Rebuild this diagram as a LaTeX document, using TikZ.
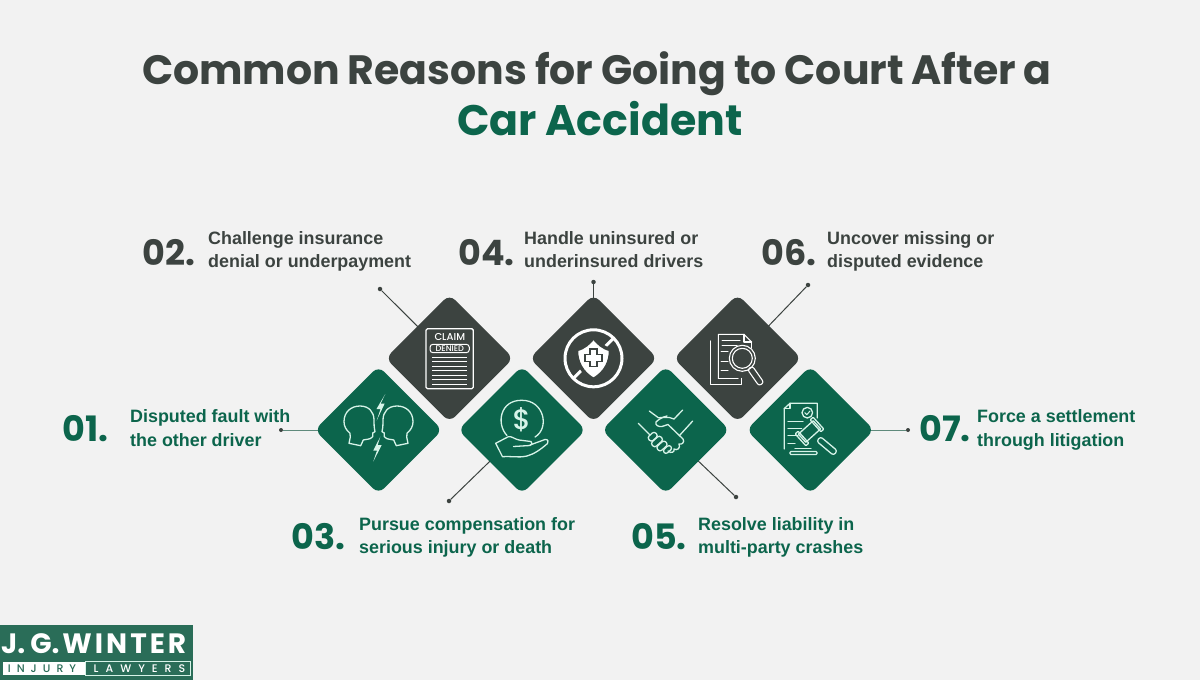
\documentclass[tikz,border=0pt]{standalone}
\usepackage{fontspec}
\usetikzlibrary{backgrounds}
\setmainfont{Poppins}[UprightFont=* Medium,BoldFont=* Bold]
\newfontfamily\labfont{Liberation Sans}
\newfontfamily\titlefont[WordSpace=0.9]{Poppins Bold}
\definecolor{bgc}{HTML}{F2F2F2}
\definecolor{darkc}{HTML}{3C4340}
\definecolor{greenc}{HTML}{0C654C}
\definecolor{mintc}{HTML}{D6F3E8}
\definecolor{logoc}{HTML}{2A6D58}
\definecolor{greenline}{HTML}{5F8A7C}
\tikzset{
 x=1pt,y=-1pt,
 tile/.style={rectangle,rotate=45,minimum size=90.4pt,inner sep=0pt,rounded corners=8pt,draw=none},
 darktile/.style={tile,fill=darkc},
 greentile/.style={tile,fill=greenc},
 titletext/.style={font=\titlefont\fontsize{41}{41}\selectfont,anchor=base,inner sep=0pt},
 numtext/.style={font=\fontsize{35}{35}\selectfont\bfseries,anchor=base west,inner sep=0pt},
 labeltext/.style={font=\labfont\bfseries\fontsize{17.9}{17.9}\selectfont,anchor=base west,inner sep=0pt},
 conn/.style={line width=1pt,draw=darkc},
 dotc/.style={circle,fill=darkc,minimum size=4.5pt,inner sep=0pt},
 icon/.style={line width=1.3pt,draw=mintc,line join=round,line cap=round},
 iconw/.style={line width=1.3pt,draw=white,line join=round,line cap=round},
}
\begin{document}
\begin{tikzpicture}
\useasboundingbox (0,0) rectangle (1200,680);
\begin{scope}[on background layer]
\fill[bgc] (0,0) rectangle (1200,680);
\end{scope}
% tiles
\node[greentile] (t1) at (378.5,430) {};
\node[darktile] (t2) at (449.5,358.3) {};
\node[greentile] (t3) at (522,430) {};
\node[darktile] (t4) at (593.5,358.3) {};
\node[greentile] (t5) at (665.7,430) {};
\node[darktile] (t6) at (737.5,358.3) {};
\node[greentile] (t7) at (810.3,430) {};
% connector ends
\node[dotc,minimum size=4pt] (e1) at (281,430) {};
\node[dotc] (e2) at (380,289) {};
\node[dotc] (e3) at (449,501) {};
\node[dotc] (e4) at (593.5,282) {};
\node[dotc] (e5) at (736,497) {};
\node[dotc] (e6) at (808,285) {};
\node[dotc,minimum size=4pt] (e7) at (908,430) {};
\begin{scope}[on background layer]
\draw[conn,draw=greenline] (e1) -- (t1.center);
\draw[conn] (e2) -- (t2.center);
\draw[conn] (e3) -- (t3.center);
\draw[conn] (e4) -- (t4.center);
\draw[conn] (e5) -- (t5.center);
\draw[conn] (e6) -- (t6.center);
\draw[conn,draw=greenline] (e7) -- (t7.center);
\end{scope}
% title
\node[titletext,text=darkc] (title1) at (597,84) {Common Reasons for Going to Court After a};
\node[titletext,text=greenc,font=\titlefont\fontsize{42.7}{42.7}\selectfont] (title2) at (600,135) {Car Accident};
% numbers and labels
\node[numtext,text=greenc] (n1) at (62,441) {01.};
\node[labeltext,text=greenc] (l1a) at (130,422) {Disputed fault with};
\node[labeltext,text=greenc] (l1b) at (130,446) {the other driver};
\node[numtext,text=darkc] (n2) at (142,265) {02.};
\node[labeltext,text=darkc] (l2a) at (208,244) {Challenge insurance};
\node[labeltext,text=darkc] (l2b) at (208,267) {denial or underpayment};
\node[numtext,text=greenc] (n3) at (291,549) {03.};
\node[labeltext,text=greenc] (l3a) at (359,530) {Pursue compensation for};
\node[labeltext,text=greenc] (l3b) at (359,553) {serious injury or death};
\node[numtext,text=darkc] (n4) at (458,265) {04.};
\node[labeltext,text=darkc] (l4a) at (524,244) {Handle uninsured or};
\node[labeltext,text=darkc] (l4b) at (524,267) {underinsured drivers};
\node[numtext,text=greenc] (n5) at (631,549) {05.};
\node[labeltext,text=greenc] (l5a) at (698,530) {Resolve liability in};
\node[labeltext,text=greenc] (l5b) at (698,553) {multi-party crashes};
\node[numtext,text=darkc] (n6) at (761,265) {06.};
\node[labeltext,text=darkc] (l6a) at (827,244) {Uncover missing or};
\node[labeltext,text=darkc] (l6b) at (827,267) {disputed evidence};
\node[numtext,text=greenc] (n7) at (919,441) {07.};
\node[labeltext,text=greenc] (l7a) at (977,422) {Force a settlement};
\node[labeltext,text=greenc] (l7b) at (977,446) {through litigation};
% icon 1: heads
\draw[icon] (360.7,445.7) -- (349,443.3) .. controls (350,438) and (351,436) .. (350,433.3) .. controls (346,430) and (344,426) .. (344,421.7) .. controls (344,412) and (351,406) .. (360,406) .. controls (369,406) and (374,412) .. (374,420) .. controls (374,424) and (374,427) .. (375,431.7) -- (372.7,433) -- (372.7,436.7) .. controls (370,440) and (366,439) .. (363.3,440) -- cycle;
\draw[icon] (396.3,445.7) -- (408,443.3) .. controls (407,438) and (406,436) .. (407,433.3) .. controls (411,430) and (413,426) .. (413,421.7) .. controls (413,412) and (406,406) .. (397,406) .. controls (388,406) and (383,412) .. (383,420) .. controls (383,424) and (383,427) .. (382,431.7) -- (384.3,433) -- (384.3,436.7) .. controls (387,440) and (391,439) .. (393.7,440) -- cycle;
\fill[mintc] (385.3,394) -- (376.5,409) -- (380.5,409) -- (376.7,420.5) -- (384.7,403.5) -- (380.7,403.5) -- cycle;
\fill[mintc] (380.3,436.7) -- (373.3,450.5) -- (377,450.5) -- (373.3,461.5) -- (381.7,445) -- (377.7,445) -- cycle;
% icon 2: claim denied
\draw[iconw,rounded corners=1.5pt] (426,328.7) rectangle (473.3,388.7);
\draw[iconw,rounded corners=3pt,line width=1pt] (430,344.3) rectangle (469.3,352.7);
\node[text=white,inner sep=0pt,font=\fontsize{10}{10}\selectfont] (cl) at (449.8,337.3) {CLAIM};
\node[text=white,inner sep=0pt,font=\fontsize{8.2}{8.2}\selectfont] (dn) at (449.8,348.5) {DENIED};
\foreach \yy in {357.3,361.7,366,370.7,375,379.3,384.3}{\draw[iconw,line width=1pt,line cap=butt] (432,\yy) -- (467.3,\yy);}
% icon 3: dollar hand
\draw[icon] (507,435.5) .. controls (496,424) and (500,400) .. (521.7,400.3) .. controls (544,400) and (550,428) .. (535,437);
\node[text=mintc,inner sep=0pt,font=\fontsize{28}{28}\selectfont] (dl) at (521.7,420) {\$};
\draw[icon] (495.7,443.3) -- (508.3,436.7) .. controls (512,436) and (514,439) .. (519,440) -- (531,441.5) .. controls (533,443) and (532,445) .. (530,445.5) -- (513.5,446.5);
\draw[icon] (530,445) -- (545,439.5) .. controls (548,439) and (549,442) .. (547.5,443.5) .. controls (540,450) and (534,454) .. (527,456) .. controls (518,458) and (512,456) .. (502.5,456.7) -- (495.7,443.3);
% icon 4: no insurance
\draw[iconw,line width=3pt] (593.5,358.3) circle (28.5);
\draw[draw=white,line width=3pt] (613.6,338.2) -- (573.4,378.4);
\draw[draw=darkc,fill=white,line width=3.5pt] (593.5,337.5) .. controls (589,343) and (584,348) .. (576.5,349.5) .. controls (576,362) and (582,373) .. (593.5,379.5) .. controls (605,373) and (611,362) .. (610.5,349.5) .. controls (603,348) and (598,343) .. (593.5,337.5) -- cycle;
\draw[draw=darkc,fill=white,line width=1.2pt] (590,349) -- (597,349) -- (597,354.3) -- (602,354.3) -- (602,361.3) -- (597,361.3) -- (597,366.5) -- (590,366.5) -- (590,361.3) -- (585,361.3) -- (585,354.3) -- (590,354.3) -- cycle;
% icon 5: handshake
\draw[icon] (649.3,411) -- (658.3,417.7) .. controls (662,418) and (668,416) .. (674,419);
\draw[icon] (682.7,410) -- (674,419);
\draw[icon] (638.3,423.3) -- (649.3,434.3);
\draw[icon] (692.7,421) -- (679.3,435.7);
\draw[icon] (667,416) .. controls (662,417) and (658,420) .. (656,422) .. controls (655,425) and (658,427) .. (662,426.5) -- (668,424.5) -- (683,439) .. controls (685,442) and (682,445) .. (679,444) .. controls (681,448) and (677,451) .. (674,449) .. controls (675,452) and (671,454) .. (668,451);
\draw[icon,rounded corners=2.5pt,rotate around={42:(652.7,436.7)}] (648,433.7) rectangle (657.4,439.7);
\draw[icon,rounded corners=2.5pt,rotate around={42:(657,441.5)}] (651,438.5) rectangle (663,444.5);
\draw[icon,rounded corners=2.5pt,rotate around={42:(662,446)}] (656.5,443) rectangle (667.5,449);
\draw[icon,rounded corners=2.5pt,rotate around={42:(667.5,449.5)}] (663,447) rectangle (672,452);
% icon 6: documents + lens
\draw[iconw,line width=1.1pt] (710.7,341) -- (710.7,384.3) -- (741.7,384.3) -- (741.7,378.3);
\draw[iconw,line width=1.1pt] (718.3,378.3) -- (718.3,334.3) -- (744,334.3) -- (751.7,342);
\draw[iconw,line width=1.1pt] (718.3,378.3) -- (738,378.3);
\draw[iconw,line width=1.1pt] (744,334.3) -- (744,342) -- (751.7,342) -- (751.7,348);
\foreach \xa/\xb/\yy in {722/740/340,722/737/345.7,721/728/351.7,721/728/361,721/728/370}{\draw[iconw,line width=1pt] (\xa,\yy) -- (\xb,\yy);}
\draw[iconw,line width=1.1pt] (742.3,358.3) circle (13);
\draw[iconw,line width=1.1pt] (742.3,358.3) circle (10);
\draw[iconw,line width=1.1pt,rounded corners=2.5pt,rotate around={-55:(755.7,376)}] (745.7,373) rectangle (765.7,379);
% icon 7: document + gavel
\draw[icon] (784.3,449) -- (784.3,408.5) -- (790,403.3) -- (817.3,403.3) -- (817.3,418);
\draw[icon] (790,403.3) -- (790,408.5) -- (784.3,408.5);
\draw[icon] (807.3,412.7) circle (5.3);
\draw[icon,line width=1pt] (804.8,412.7) -- (806.8,414.7) -- (810,411);
\foreach \xb/\yy in {803/421.7,801.7/428.3,798/435.7,795/443.3}{\draw[icon,line width=1.1pt] (788,\yy) -- (\xb,\yy);}
\draw[icon,rotate around={42:(809.5,431.5)}] (799.5,426) rectangle (819.5,437);
\draw[icon,rounded corners=.8pt,rotate around={42:(802,438.5)}] (800,430.5) rectangle (804,446.5);
\draw[icon,rounded corners=.8pt,rotate around={42:(817,424.5)}] (815,416.5) rectangle (819,432.5);
\draw[icon,rounded corners=2.5pt,rotate around={-40:(827,446)}] (816,443) rectangle (838,449);
\draw[icon] (795,448.7) -- (811,448.7);
\draw[icon,rounded corners=1pt] (790,451.5) rectangle (817,454.5);
% logo
\fill[logoc] (0,625) rectangle (193,680);
\node[text=white,anchor=base west,inner sep=0pt,font=\fontsize{28}{28}\selectfont\bfseries] (lg) at (1,653.5) {J.\hspace{5pt}G.\hspace{3pt}W\hspace{3pt}I\hspace{3pt}N\hspace{3pt}T\hspace{3pt}E\hspace{3pt}R};
\fill[white] (3,662) rectangle (85,675);
\draw[draw=mintc,line width=.6pt] (85,661) rectangle (190.5,675);
\node[text=logoc,anchor=base,inner sep=0pt,font=\fontsize{11}{11}\selectfont] (lg2) at (42,672.3) {I\hspace{6pt}N\hspace{6pt}J\hspace{6pt}U\hspace{6pt}R\hspace{6pt}Y};
\node[text=white,anchor=base,inner sep=0pt,font=\fontsize{11}{11}\selectfont] (lg3) at (139.5,672.3) {L\hspace{7pt}A\hspace{7pt}W\hspace{7pt}Y\hspace{7pt}E\hspace{7pt}R\hspace{7pt}S};
\end{tikzpicture}
\end{document}
